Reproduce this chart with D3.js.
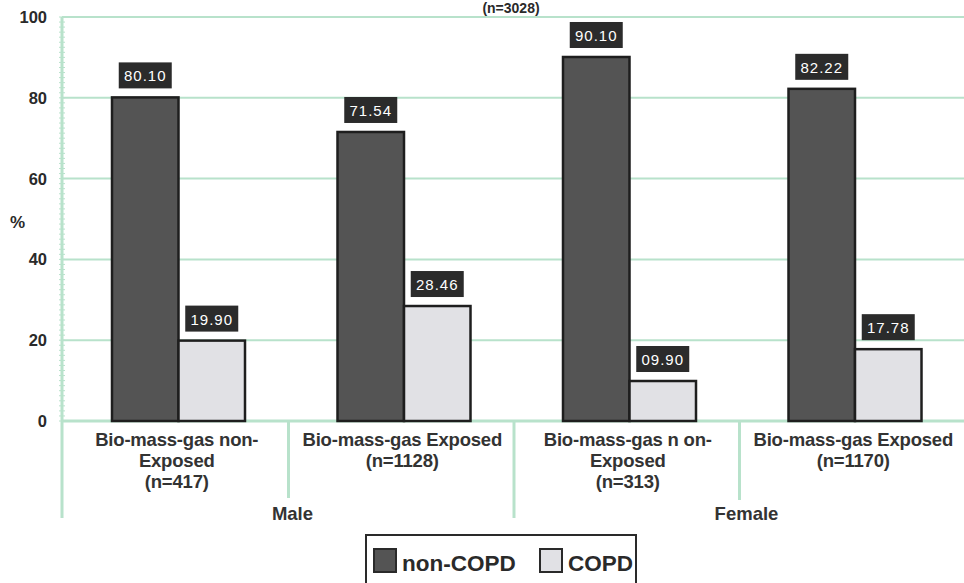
<!DOCTYPE html>
<html><head><meta charset="utf-8">
<script src="https://cdn.jsdelivr.net/npm/d3@7"></script>
<style>body{margin:0;background:#fff}svg{display:block}text{font-family:"Liberation Sans",Arial,sans-serif}</style>
</head><body><svg id="c" width="964" height="583"></svg>
<script>
const categories = ["Male-nonExposed","Male-Exposed","Female-nonExposed","Female-Exposed"];
const categoryLines = [
  ["Bio-mass-gas non-","Exposed","(n=417)"],
  ["Bio-mass-gas Exposed","(n=1128)"],
  ["Bio-mass-gas n on-","Exposed","(n=313)"],
  ["Bio-mass-gas Exposed","(n=1170)"]
];
const sexGroups = ["Male","Female"];
const series = ["non-COPD","COPD"];
const nonCOPD = [80.10, 71.54, 90.10, 82.22];
const COPD = [19.90, 28.46, 9.90, 17.78];
const nonCOPDLabels = ["80.10","71.54","90.10","82.22"];
const COPDLabels = ["19.90","28.46","09.90","17.78"];
const yTicks = [0,20,40,60,80,100];
const title = "(n=3028)";

const svg = d3.select("#c");
const green = "#b8e2cb", ink = "#2a2a2a";
const colors = {"non-COPD":"#545454","COPD":"#e1e1e5"};

const y = d3.scaleLinear().domain([0,100]).range([421,17]);
const x0 = d3.scaleBand().domain(categories).range([62,964]).padding(0);
const x1 = d3.scaleBand().domain(series).range([50,183]).padding(0);

// title
svg.append("text").attr("x",511).attr("y",13).attr("text-anchor","middle")
  .attr("font-size",14).attr("font-weight","bold").attr("fill",ink).text(title);

// gridlines
svg.append("g").selectAll("line").data(yTicks).join("line")
  .attr("x1",62).attr("x2",964).attr("y1",d=>y(d)).attr("y2",d=>y(d))
  .attr("stroke",green).attr("stroke-width",d=>d===0?3:2);

// left axis with minor ticks
svg.append("line").attr("x1",62).attr("x2",62).attr("y1",y(100)).attr("y2",518)
  .attr("stroke",green).attr("stroke-width",3);
svg.append("g").selectAll("line").data(d3.range(0,101,1.25)).join("line")
  .attr("x1",59).attr("x2",65).attr("y1",d=>y(d)).attr("y2",d=>y(d))
  .attr("stroke",green).attr("stroke-width",1);

// y tick labels
svg.append("g").selectAll("text").data(yTicks).join("text")
  .attr("x",47).attr("y",d=>y(d)).attr("dy","0.36em").attr("text-anchor","end")
  .attr("font-size",16.5).attr("font-weight","bold").attr("fill",ink).text(d=>d);
svg.append("text").attr("x",10).attr("y",222).attr("dy","0.36em")
  .attr("font-size",17).attr("font-weight","bold").attr("fill",ink).text("%");

// category dividers
const dividerEnds = [498, 518, 500];
svg.append("g").selectAll("line").data(categories.slice(1)).join("line")
  .attr("x1",d=>x0(d)+1).attr("x2",d=>x0(d)+1).attr("y1",y(0)).attr("y2",(d,i)=>dividerEnds[i])
  .attr("stroke",green).attr("stroke-width",3);

// bars
const rows = categories.map((c,i)=>({c, vals:[
  {s:"non-COPD", v:nonCOPD[i], lab:nonCOPDLabels[i]},
  {s:"COPD", v:COPD[i], lab:COPDLabels[i]}]}));
const g = svg.append("g").selectAll("g").data(rows).join("g")
  .attr("transform",d=>`translate(${x0(d.c)},0)`);
g.selectAll("rect.bar").data(d=>d.vals).join("rect").attr("class","bar")
  .attr("x",d=>x1(d.s)).attr("width",x1.bandwidth())
  .attr("y",d=>y(d.v)).attr("height",d=>y(0)-y(d.v))
  .attr("fill",d=>colors[d.s]).attr("stroke","#1e1e1e").attr("stroke-width",2.5);
// value labels
const lg = g.selectAll("g.lab").data(d=>d.vals).join("g").attr("class","lab")
  .attr("transform",d=>`translate(${x1(d.s)+x1.bandwidth()/2},${y(d.v)-9})`);
lg.append("rect").attr("x",-26.5).attr("y",-26).attr("width",53).attr("height",26).attr("fill","#2b2b2b");
lg.append("text").attr("x",0).attr("y",-7).attr("text-anchor","middle")
  .attr("font-size",15).attr("letter-spacing",1).attr("fill","#fff").text(d=>d.lab);

// category labels
const cl = svg.append("g").selectAll("text").data(categories).join("text")
  .attr("text-anchor","middle").attr("font-size",18.5).attr("font-weight","bold").attr("fill","#333")
  .attr("letter-spacing",-0.2)
  .attr("transform",d=>`translate(${x0(d)+x0.bandwidth()/2+2},446)`);
cl.selectAll("tspan").data((d,i)=>categoryLines[i]).join("tspan")
  .attr("x",0).attr("y",(d,i)=>i*21).text(d=>d);

// sex group labels
svg.append("g").selectAll("text").data(sexGroups).join("text")
  .attr("x",(d,i)=>(x0(categories[i*2])+x0(categories[i*2+1])+x0.bandwidth())/2 + (i===0?5:8))
  .attr("y",520).attr("text-anchor","middle").attr("font-size",18.5).attr("font-weight","bold")
  .attr("fill","#333").text(d=>d);

// legend
const leg = svg.append("g");
leg.append("rect").attr("x",366).attr("y",535).attr("width",270).attr("height",60)
  .attr("fill","#fff").attr("stroke","#2a2a2a").attr("stroke-width",2);
const legX = [374, 540];
const li = leg.selectAll("g").data(series).join("g").attr("transform",(d,i)=>`translate(${legX[i]},549)`);
li.append("rect").attr("width",22).attr("height",23).attr("fill",d=>colors[d])
  .attr("stroke","#2a2a2a").attr("stroke-width",2);
li.append("text").attr("x",28).attr("y",22).attr("font-size",22.5).attr("font-weight","bold")
  .attr("fill","#2a2a2a").text(d=>d);
</script></body></html>
